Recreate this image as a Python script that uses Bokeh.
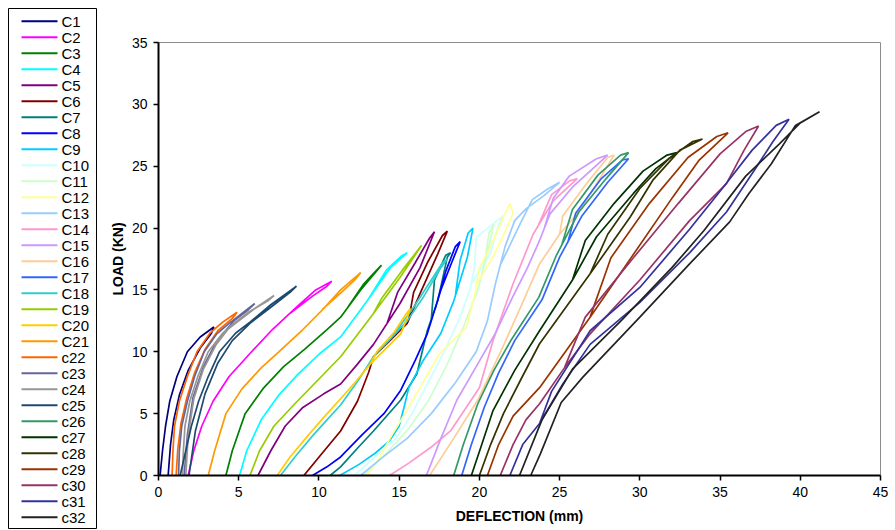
from bokeh.plotting import figure
from bokeh.layouts import row, column
from bokeh.models import Range1d, FixedTicker
from bokeh.core.properties import value
from bokeh.embed import file_html
from bokeh.resources import INLINE

# Cycle names and their line colours
names = ["C1", "C2", "C3", "C4", "C5", "C6", "C7", "C8", "C9", "C10",
         "C11", "C12", "C13", "C14", "C15", "C16", "C17", "C18", "C19", "C20",
         "C21", "c22", "c23", "c24", "c25", "c26", "c27", "c28", "c29", "c30",
         "c31", "c32"]
colors = ["#000080", "#FF00FF", "#008000", "#00FFFF", "#800080", "#800000", "#008080", "#0000FF",
          "#00CCFF", "#CCFFFF", "#CCFFCC", "#FFFF99", "#99CCFF", "#FF99CC", "#CC99FF", "#FFCC99",
          "#3366FF", "#33CCCC", "#99CC00", "#FFCC00", "#FF9900", "#FF6600", "#666699", "#969696",
          "#1F4A70", "#339966", "#003300", "#333300", "#993300", "#993366", "#333399", "#222222"]

# Deflection (mm) for each cycle: loading branch up to the peak, then the return branch
deflection_mm = [
    [0.1, 0.25, 0.44, 0.7, 1.15, 1.8, 2.6, 3.45, 3.3, 2.6, 1.85, 1.3, 0.95, 0.75, 0.6],
    [1.85, 2.2, 2.7, 3.4, 4.4, 5.8, 7.1, 8.6, 9.8, 10.8, 10.5, 9.6, 8.2],
    [4.2, 4.6, 5.4, 6.5, 7.8, 9.1, 10.5, 11.35, 12.6, 13.9, 13.6, 12.8, 11.8],
    [5.05, 5.5, 6.4, 7.5, 8.7, 10.0, 11.35, 13.0, 14.45, 15.5, 15.1, 14.2, 13.05],
    [6.2, 7.0, 7.9, 9.0, 10.3, 11.35, 12.4, 13.4, 15.05, 16.3, 17.2, 16.9, 16.0, 14.9, 14.25],
    [9.06, 10.2, 11.35, 12.4, 13.1, 13.4, 14.5, 15.5, 16.3, 17.4, 18.0, 17.7, 16.8, 15.9, 15.6],
    [10.7, 11.35, 12.4, 13.4, 15.1, 16.1, 16.75, 17.4, 18.0, 18.2, 17.9, 17.2, 17.0],
    [9.6, 10.5, 11.35, 12.7, 14.05, 15.1, 16.0, 16.75, 17.6, 18.3, 18.8, 18.5, 17.9, 17.25],
    [11.3, 12.5, 13.5, 14.4, 15.0, 15.3, 15.6, 16.5, 17.6, 18.4, 19.25, 19.6, 19.3, 18.8, 18.5],
    [12.2, 13.5, 14.8, 15.8, 16.8, 17.8, 18.8, 19.4, 19.7, 19.8, 21.5, 21.2, 20.7, 19.5],
    [12.8, 14.2, 15.6, 16.8, 18.0, 19.0, 19.9, 20.5, 20.9, 20.6, 20.3],
    [13.0, 13.8, 14.6, 15.5, 16.3, 17.5, 19.2, 19.7, 20.0, 20.7, 21.5, 21.9, 22.1, 21.7, 20.9, 19.85],
    [12.6, 14.0, 15.5, 17.0, 18.5, 19.8, 20.5, 21.0, 21.6, 22.2, 22.9, 24.0, 25.0, 24.3, 23.3, 22.6, 21.3],
    [14.4, 15.6, 17.0, 18.2, 20.0, 20.85, 22.1, 23.35, 24.6, 26.1, 25.6, 24.5, 23.6],
    [16.7, 17.6, 18.6, 19.8, 21.0, 22.1, 23.0, 23.75, 24.4, 25.8, 28.0, 27.3, 25.6, 24.6, 24.05],
    [16.9, 18.4, 19.9, 21.5, 22.7, 23.75, 25.0, 26.25, 27.5, 28.4, 28.0, 26.8, 25.2, 25.0],
    [18.9, 19.5, 20.3, 21.2, 22.2, 23.9, 25.0, 26.4, 28.0, 29.3, 28.9, 27.6, 26.0, 25.5],
    [7.6, 8.5, 9.6, 10.5, 11.35, 12.4, 13.4, 14.5, 15.5, 16.5, 17.6, 18.0, 17.7, 16.9, 15.9, 14.5],
    [5.7, 6.3, 7.2, 8.5, 10.0, 11.35, 13.4, 15.05, 16.4, 16.1, 15.2, 13.9, 13.4],
    [7.4, 8.2, 9.3, 10.3, 11.35, 12.3, 13.2, 14.2, 15.1, 15.5, 15.7, 15.4, 14.7, 13.6, 13.2],
    [3.1, 3.5, 4.2, 5.2, 6.4, 7.5, 9.0, 10.3, 11.35, 12.6, 12.3, 11.4, 10.2],
    [0.85, 0.9, 1.0, 1.3, 1.8, 2.4, 3.2, 4.0, 4.9, 4.6, 3.7, 2.9, 2.25, 1.75, 1.4, 1.2, 1.1],
    [1.25, 1.3, 1.45, 1.8, 2.25, 2.85, 3.6, 4.4, 5.2, 6.0, 5.6, 4.7, 3.6, 2.8, 2.15, 1.8, 1.6],
    [1.5, 1.55, 1.65, 1.95, 2.45, 3.1, 4.0, 4.8, 6.0, 7.2, 6.8, 5.6, 4.5, 3.6, 2.8, 2.2, 1.85, 1.7],
    [1.35, 1.7, 2.05, 2.5, 3.1, 3.8, 4.8, 5.7, 7.0, 8.6, 8.2, 6.9, 5.7, 4.6, 3.7, 2.9, 2.3, 1.9],
    [18.4, 19.0, 19.9, 20.9, 22.0, 23.7, 24.8, 26.2, 27.9, 29.3, 28.8, 27.4, 25.8, 25.1],
    [19.5, 20.2, 20.85, 22.2, 23.75, 25.8, 27.3, 29.6, 31.0, 32.3, 31.7, 30.2, 28.4, 26.6, 25.8],
    [20.0, 20.7, 21.5, 22.6, 23.75, 26.9, 29.4, 30.8, 32.5, 33.9, 33.3, 31.8, 30.0, 28.0, 26.9],
    [20.5, 21.2, 22.1, 23.75, 26.9, 29.35, 32.05, 33.7, 35.5, 34.8, 33.0, 30.6, 28.2, 26.9],
    [21.3, 22.1, 22.9, 23.75, 25.3, 26.9, 30.0, 33.1, 35.4, 36.5, 37.4, 36.6, 35.0, 32.4, 29.6, 26.6, 25.3],
    [21.9, 22.7, 23.75, 25.2, 26.9, 30.0, 33.1, 35.4, 37.2, 38.3, 39.3, 38.5, 37.0, 35.2, 33.1, 30.0, 26.9, 24.5, 23.75],
    [23.2, 23.8, 25.1, 26.45, 30.0, 33.1, 35.6, 36.8, 38.2, 39.7, 41.2, 40.0, 38.7, 36.6, 34.0, 32.0, 28.9, 25.8, 23.9, 22.5],
]

# Load (kN) matching each deflection reading
load_kn = [
    [0, 2, 4, 6, 8, 10, 11.2, 12.0, 11.5, 10.3, 8.5, 6.5, 4.5, 2.5, 0],
    [0, 2, 4, 6, 8, 10, 11.8, 13.6, 15.0, 15.7, 15.3, 14.5, 13.1],
    [0, 2, 5, 7, 8.8, 10.2, 11.8, 12.8, 15.0, 17.0, 16.6, 15.5, 13.6],
    [0, 2, 4.5, 6.5, 8.2, 9.8, 11.2, 14.1, 16.8, 18.0, 17.7, 16.6, 14.2],
    [0, 2, 4, 5.5, 6.6, 7.4, 9.0, 10.6, 13.9, 16.8, 19.7, 19.2, 17.2, 14.8, 12.3],
    [0, 1.8, 3.6, 6.0, 8.35, 9.6, 11.0, 12.3, 14.7, 17.9, 19.75, 19.4, 17.3, 14.8, 12.6],
    [0, 0.7, 2.2, 3.6, 6.1, 8.2, 11.7, 14.1, 17.65, 18.0, 17.8, 15.8, 12.6],
    [0, 0.7, 1.5, 3.3, 5.0, 6.9, 9.3, 11.45, 15.0, 17.3, 18.9, 18.5, 16.5, 13.5],
    [0, 0.9, 1.8, 2.8, 4.0, 5.5, 7.1, 9.3, 11.5, 14.1, 17.65, 20.0, 19.6, 17.4, 14.5],
    [0, 1.5, 3.0, 5.0, 7.5, 10.0, 12.8, 15.0, 16.85, 19.25, 21.0, 20.3, 18.0, 15.5],
    [0, 1.8, 3.8, 6.0, 9.0, 12.0, 15.0, 18.0, 20.3, 19.6, 17.0],
    [0, 1.5, 3.4, 5.3, 7.1, 9.8, 12.0, 14.5, 16.8, 18.5, 20.9, 22.0, 21.2, 20.0, 17.8, 15.5],
    [0, 1.5, 3.0, 5.0, 7.5, 10.0, 12.5, 15.5, 18.5, 20.6, 21.55, 22.6, 23.7, 23.2, 22.3, 20.5, 17.0],
    [0, 1.0, 2.3, 3.6, 7.1, 10.9, 15.5, 19.5, 22.2, 24.0, 23.8, 22.7, 20.0],
    [0, 3.0, 6.1, 8.8, 11.5, 14.5, 16.8, 19.0, 21.15, 23.3, 25.9, 25.6, 24.2, 22.4, 20.0],
    [0, 3.0, 6.1, 10.5, 14.0, 17.1, 19.5, 21.4, 24.0, 25.9, 25.7, 23.8, 21.0, 19.5],
    [0, 2.5, 5.5, 8.3, 10.9, 14.2, 17.65, 21.0, 23.7, 25.6, 25.5, 24.0, 21.2, 18.8],
    [0, 1.5, 3.2, 4.5, 5.7, 7.6, 9.6, 11.1, 12.5, 14.4, 16.8, 17.5, 17.2, 15.6, 13.6, 11.1],
    [0, 2, 4, 5.8, 7.8, 9.6, 13.1, 16.0, 18.6, 18.1, 16.6, 14.3, 13.1],
    [0, 1.5, 3.2, 4.7, 6.2, 7.6, 9.0, 10.3, 11.45, 12.8, 13.5, 13.0, 11.6, 10.0, 9.0],
    [0, 2, 5, 7, 8.7, 10, 11.8, 13.5, 15.0, 16.4, 15.9, 14.8, 13.4],
    [0, 2, 4, 6, 8, 10, 11.5, 12.4, 13.2, 12.7, 11.7, 10.2, 8.3, 6.2, 4.2, 2.1, 0],
    [0, 2, 4, 6, 8, 10, 11.4, 12.3, 13.1, 13.9, 13.4, 12.5, 10.8, 8.8, 6.3, 3.3, 0],
    [0, 2, 4, 6, 8, 10, 11.5, 12.3, 13.5, 14.55, 14.1, 13.2, 12.1, 10.6, 8.6, 6.2, 3.2, 0],
    [0, 2, 4, 6, 8, 10, 11.5, 12.4, 13.8, 15.3, 14.8, 13.5, 12.3, 10.9, 9.1, 6.6, 3.6, 0],
    [0, 2.5, 5.8, 8.5, 11.0, 14.4, 17.8, 21.3, 24.0, 26.1, 25.9, 24.3, 21.5, 18.5],
    [0, 2.7, 5.25, 8.5, 11.7, 15.8, 19.3, 22.8, 24.8, 26.1, 25.9, 24.6, 22.0, 19.0, 15.8],
    [0, 2.5, 5.0, 7.8, 10.65, 16.3, 20.9, 23.85, 26.3, 27.2, 27.0, 25.6, 23.2, 19.5, 16.3],
    [0, 2.5, 4.8, 7.1, 12.8, 17.4, 22.5, 25.5, 27.7, 27.4, 25.7, 22.0, 17.6, 12.8],
    [0, 2.5, 4.5, 5.8, 8.7, 11.45, 15.8, 20.6, 23.6, 26.3, 28.25, 27.8, 26.0, 22.0, 17.6, 12.8, 8.7],
    [0, 2.5, 4.2, 7.4, 10.6, 14.0, 18.0, 21.3, 24.8, 27.0, 28.8, 28.3, 26.3, 23.3, 19.9, 15.2, 11.7, 6.8, 4.2],
    [0, 1.75, 5.9, 7.95, 12.8, 17.1, 20.5, 22.8, 25.2, 28.3, 29.4, 28.5, 26.8, 24.2, 19.8, 16.8, 12.6, 8.6, 4.5, 0],
]

x_ticks = [0, 5, 10, 15, 20, 25, 30, 35, 40, 45]
y_ticks = [0, 5, 10, 15, 20, 25, 30, 35]

FONT = "Liberation Sans"
H = 530

# ---- key panel on the left: pixel-unit ranges so the box can be laid out directly
key = figure(width=100, height=H, output_backend="svg", toolbar_location=None,
             x_range=Range1d(0, 100), y_range=Range1d(0, H),
             x_axis_location=None, y_axis_location=None,
             min_border_left=0, min_border_right=0, min_border_top=0, min_border_bottom=0)
key.grid.visible = False
key.outline_line_color = None
key.background_fill_color = "white"
key.border_fill_color = "white"

row_gap = 16.0
first_row = H - 20.7
row_y = [first_row - i * row_gap for i in range(len(names))]
key.quad(left=8, right=96, top=H - 8, bottom=H - 528,
         fill_color="white", line_color="black", line_width=1)
key.segment(x0=21, x1=57, y0=row_y, y1=row_y, line_color=colors, line_width=2)
key.text(x=61, y=row_y, text=names, text_baseline="middle", text_align="left",
         text_font=value(FONT), text_font_size="15px", text_color="black")

# ---- main load / deflection chart
p = figure(width=795, height=H, output_backend="svg", toolbar_location=None,
           x_range=Range1d(0, 45), y_range=Range1d(0, 35),
           min_border_left=58, min_border_right=15, min_border_top=42, min_border_bottom=55)
p.background_fill_color = "white"
p.border_fill_color = "white"
p.outline_line_color = "#8c8c8c"
p.outline_line_width = 1
p.xgrid.visible = False
p.ygrid.visible = False

for col, xs, ys in zip(colors, deflection_mm, load_kn):
    p.line(xs, ys, line_color=col, line_width=1.7)

for ax, ticks in ((p.xaxis[0], x_ticks), (p.yaxis[0], y_ticks)):
    ax.ticker = FixedTicker(ticks=ticks)
    ax.minor_tick_line_color = None
    ax.major_tick_in = 0
    ax.major_tick_out = 5
    ax.major_tick_line_width = 1.5
    ax.major_tick_line_color = "black"
    ax.axis_line_width = 2
    ax.axis_line_color = "black"
    ax.major_label_text_font = FONT
    ax.major_label_text_font_size = "14px"
    ax.major_label_text_color = "black"
    ax.axis_label_text_font = FONT
    ax.axis_label_text_font_size = "14px"
    ax.axis_label_text_font_style = "bold"
    ax.axis_label_text_color = "black"

p.xaxis.axis_label = "DEFLECTION (mm)"
p.yaxis.axis_label = "LOAD (KN)"
p.xaxis.major_label_standoff = 6
p.yaxis.major_label_standoff = 6
p.xaxis.axis_label_standoff = 8
p.yaxis.axis_label_standoff = 3

layout = row(column(key), p, spacing=0)
open("out.html", "w").write(file_html(layout, INLINE))
